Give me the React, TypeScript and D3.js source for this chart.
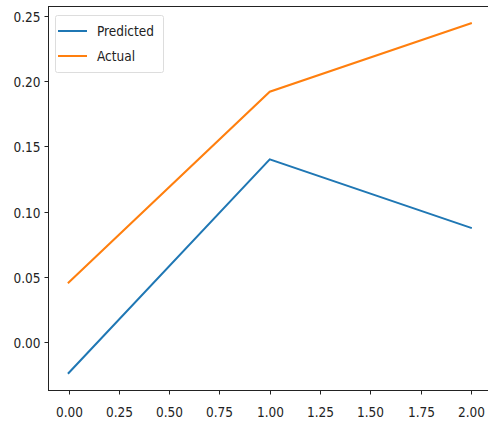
import React, { useEffect, useRef } from 'react';
import * as d3 from 'd3';

const xValues = [0, 1, 2];
const predicted = [-0.024, 0.14, 0.0875];
const actual = [0.0455, 0.192, 0.2445];
const seriesNames = ['Predicted', 'Actual'];
const seriesColors = ['#1f77b4', '#ff7f0e'];
const xTicks = [0, 0.25, 0.5, 0.75, 1, 1.25, 1.5, 1.75, 2];
const yTicks = [0, 0.05, 0.1, 0.15, 0.2, 0.25];

const App = () => {
  const svgRef = useRef<SVGSVGElement>(null);

  useEffect(() => {
    const svg = d3.select(svgRef.current);
    svg.selectAll('*').remove();

    const left = 48.5;
    const right = 491;
    const top = 6.5;
    const bottom = 390.5;

    const x = d3.scaleLinear().domain([-0.1, 2.1]).range([left, right]);
    const y = d3.scaleLinear().domain([-0.0374, 0.2574]).range([bottom, top]);

    const font = "'DejaVu Sans Condensed', 'DejaVu Sans', sans-serif";

    // lines
    const line = d3.line<number>().x((d, i) => x(xValues[i])).y(d => y(d));
    [predicted, actual].forEach((s, k) => {
      svg.append('path')
        .attr('d', line(s))
        .attr('fill', 'none')
        .attr('stroke', seriesColors[k])
        .attr('stroke-width', 2)
        .attr('stroke-linecap', 'square');
    });

    // spines
    svg.append('rect')
      .attr('x', left).attr('y', top)
      .attr('width', right - left).attr('height', bottom - top)
      .attr('fill', 'none').attr('stroke', '#222').attr('stroke-width', 1);

    // y ticks
    const yg = svg.append('g');
    yTicks.forEach(t => {
      const yy = Math.round(y(t)) + 0.5;
      yg.append('line').attr('x1', left - 4).attr('x2', left).attr('y1', yy).attr('y2', yy)
        .attr('stroke', '#222');
      yg.append('text').attr('x', left - 8).attr('y', yy)
        .attr('text-anchor', 'end').attr('dominant-baseline', 'central')
        .attr('font-family', font).attr('font-size', 13.5).attr('fill', '#222')
        .text(t.toFixed(2));
    });

    // x ticks
    const xg = svg.append('g');
    xTicks.forEach(t => {
      const xx = Math.round(x(t)) + 0.5;
      xg.append('line').attr('x1', xx).attr('x2', xx).attr('y1', bottom).attr('y2', bottom + 4)
        .attr('stroke', '#222');
      xg.append('text').attr('x', xx).attr('y', bottom + 21)
        .attr('text-anchor', 'middle').attr('dominant-baseline', 'central')
        .attr('font-family', font).attr('font-size', 13.5).attr('fill', '#222')
        .text(t.toFixed(2));
    });

    // legend
    const lg = svg.append('g');
    lg.append('rect').attr('x', 55.5).attr('y', 15.5).attr('width', 108).attr('height', 57)
      .attr('rx', 2).attr('fill', 'white').attr('fill-opacity', 0.8)
      .attr('stroke', '#ddd');
    seriesNames.forEach((n, k) => {
      const yy = 31 + k * 25;
      lg.append('line').attr('x1', 58).attr('x2', 87).attr('y1', yy).attr('y2', yy)
        .attr('stroke', seriesColors[k]).attr('stroke-width', 2);
      lg.append('text').attr('x', 97).attr('y', yy).attr('dominant-baseline', 'central')
        .attr('font-family', font).attr('font-size', 13.5).attr('fill', '#222')
        .text(n);
    });
  }, []);

  return (
    <svg ref={svgRef} width={488} height={421}
      style={{ position: 'absolute', left: 0, top: 0, background: 'white' }} />
  );
};

export default App;
